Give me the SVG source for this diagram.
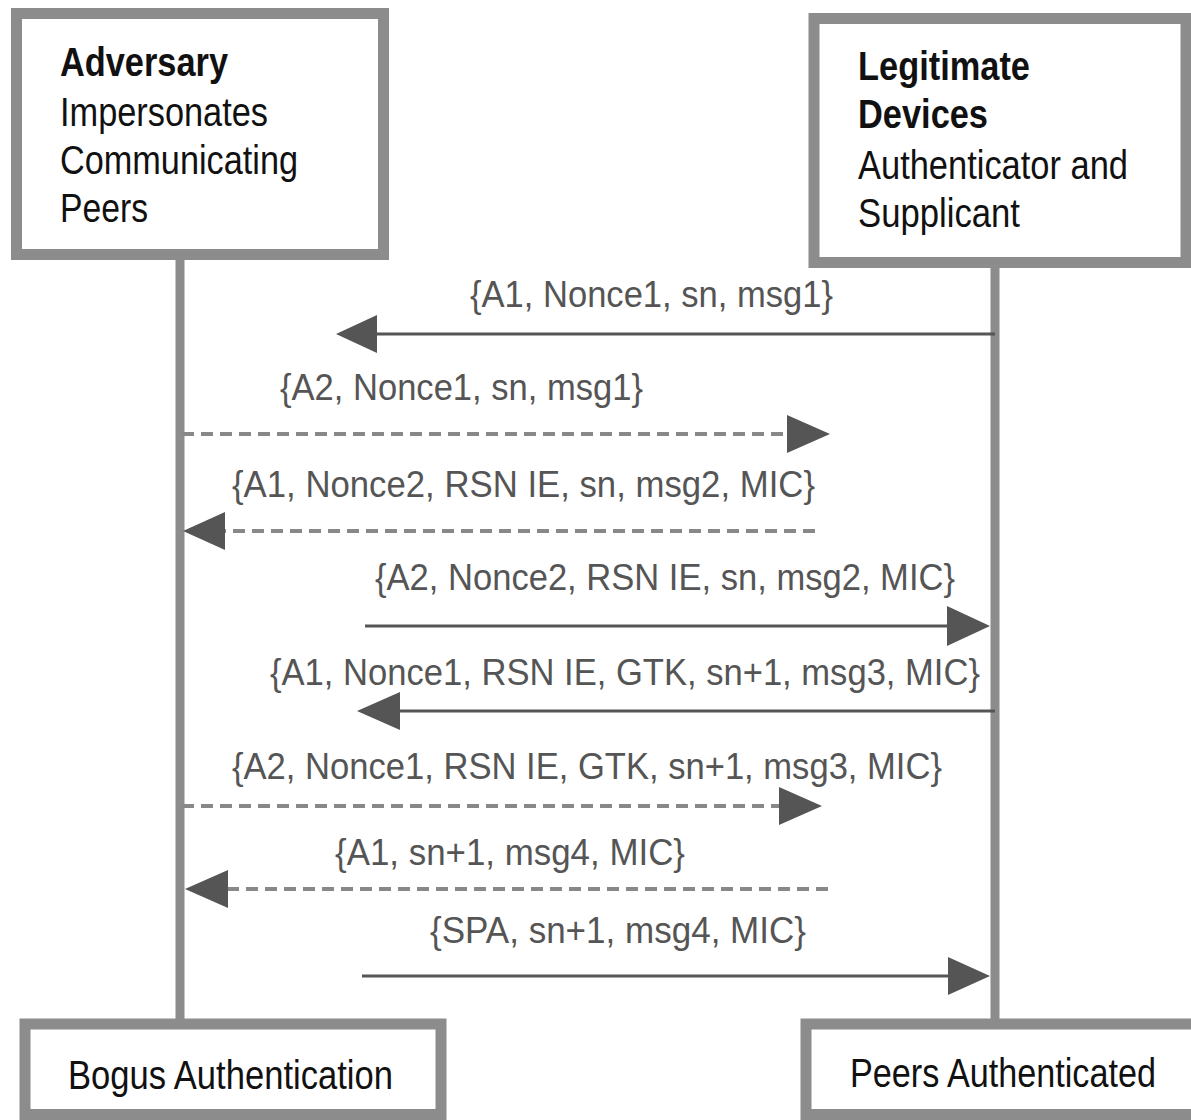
<svg xmlns="http://www.w3.org/2000/svg" width="1191" height="1120" viewBox="0 0 1191 1120">
<style>
.box{fill:#fff;stroke:#8c8c8c;stroke-width:11}
.edge{fill:none;stroke:#8c8c8c;stroke-width:11}
.life{stroke:#8c8c8c;stroke-width:9}
.t{font-family:"Liberation Sans",Arial,sans-serif;font-size:40px;fill:#111}
.b{font-weight:bold}
.m{font-family:"Liberation Sans",Arial,sans-serif;font-size:37px;fill:#555}
.solid{stroke:#555;stroke-width:3;fill:none}
.dash{stroke:#888;stroke-width:4;stroke-dasharray:12 7;fill:none}
.ah{fill:#555}
</style>
<g id="lifelines">
<line class="life" x1="180" y1="255" x2="180" y2="1025"/>
<line class="life" x1="995" y1="262" x2="995" y2="1025"/>
</g>
<g id="adversary">
<rect class="box" x="16.5" y="13.5" width="367" height="241"/>
<text class="t b" x="60" y="76" textLength="168" lengthAdjust="spacingAndGlyphs">Adversary</text>
<text class="t" x="60" y="126" textLength="208" lengthAdjust="spacingAndGlyphs">Impersonates</text>
<text class="t" x="60" y="174" textLength="238" lengthAdjust="spacingAndGlyphs">Communicating</text>
<text class="t" x="60" y="222" textLength="88" lengthAdjust="spacingAndGlyphs">Peers</text>
</g>
<g id="legitimate">
<rect class="box" x="814" y="18.5" width="372" height="244"/>
<text class="t b" x="858" y="80" textLength="172" lengthAdjust="spacingAndGlyphs">Legitimate</text>
<text class="t b" x="858" y="128" textLength="130" lengthAdjust="spacingAndGlyphs">Devices</text>
<text class="t" x="858" y="179" textLength="270" lengthAdjust="spacingAndGlyphs">Authenticator and</text>
<text class="t" x="858" y="227" textLength="162" lengthAdjust="spacingAndGlyphs">Supplicant</text>
</g>
<g id="bogus">
<rect class="box" x="25" y="1024" width="416" height="90.5"/>
<text class="t" x="68" y="1089" textLength="325" lengthAdjust="spacingAndGlyphs">Bogus Authentication</text>
</g>
<g id="peers">
<rect x="806" y="1024" width="385" height="90.5" fill="#fff"/>
<path class="edge" d="M1191 1024 H806 V1114.5 H1191"/>
<text class="t" x="850" y="1087" textLength="306" lengthAdjust="spacingAndGlyphs">Peers Authenticated</text>
</g>
<g id="connectors">
<line class="solid" x1="995" y1="334" x2="375" y2="334"/>
<polygon class="ah" points="336,334 377,315 377,353"/>
<text class="m" x="470" y="307" textLength="363" lengthAdjust="spacingAndGlyphs">{A1, Nonce1, sn, msg1}</text>

<line class="dash" x1="182" y1="434" x2="790" y2="434"/>
<polygon class="ah" points="830,434 787,415 787,453"/>
<text class="m" x="280" y="400" textLength="363" lengthAdjust="spacingAndGlyphs">{A2, Nonce1, sn, msg1}</text>

<line class="dash" x1="815" y1="531" x2="222" y2="531"/>
<polygon class="ah" points="183,531 225,512 225,550"/>
<text class="m" x="232" y="497" textLength="583" lengthAdjust="spacingAndGlyphs">{A1, Nonce2, RSN IE, sn, msg2, MIC}</text>

<line class="solid" x1="365" y1="626" x2="950" y2="626"/>
<polygon class="ah" points="990,626 947,606 947,646"/>
<text class="m" x="375" y="590" textLength="580" lengthAdjust="spacingAndGlyphs">{A2, Nonce2, RSN IE, sn, msg2, MIC}</text>

<line class="solid" x1="995" y1="711" x2="397" y2="711"/>
<polygon class="ah" points="357,711 400,692 400,730"/>
<text class="m" x="270" y="685" textLength="710" lengthAdjust="spacingAndGlyphs">{A1, Nonce1, RSN IE, GTK, sn+1, msg3, MIC}</text>

<line class="dash" x1="182" y1="806" x2="782" y2="806"/>
<polygon class="ah" points="822,806 779,787 779,825"/>
<text class="m" x="232" y="779" textLength="710" lengthAdjust="spacingAndGlyphs">{A2, Nonce1, RSN IE, GTK, sn+1, msg3, MIC}</text>

<line class="dash" x1="828" y1="889" x2="224" y2="889"/>
<polygon class="ah" points="185,889 228,870 228,908"/>
<text class="m" x="335" y="865" textLength="350" lengthAdjust="spacingAndGlyphs">{A1, sn+1, msg4, MIC}</text>

<line class="solid" x1="362" y1="976" x2="950" y2="976"/>
<polygon class="ah" points="990,976 948,957 948,995"/>
<text class="m" x="430" y="943" textLength="376" lengthAdjust="spacingAndGlyphs">{SPA, sn+1, msg4, MIC}</text>
</g>
</svg>
